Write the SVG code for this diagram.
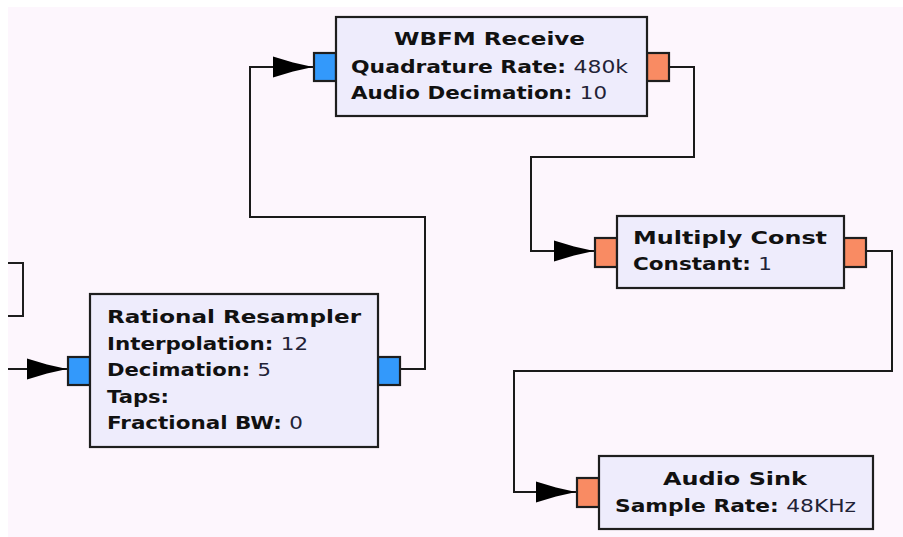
<svg xmlns="http://www.w3.org/2000/svg" width="903" height="537" viewBox="0 0 903 537">
<defs>
<style>
.node{fill:#eeecfc;stroke:#1e1e1e;stroke-width:2.2}
.pin{stroke:#1e1e1e;stroke-width:2.2}
.blue{fill:#3399fb}
.orange{fill:#f98b63}
.wire{fill:none;stroke:#1a1a1a;stroke-width:2}
text{font-family:"DejaVu Sans","Liberation Sans",sans-serif;font-size:18px;fill:#111}
.t{font-weight:bold;text-anchor:middle}
.k{font-weight:bold}
.v{font-weight:normal;fill:#222236}
</style>
<marker id="arr" markerUnits="userSpaceOnUse" markerWidth="42" markerHeight="24" refX="40" refY="12" orient="auto" viewBox="0 0 42 24">
<path d="M0,1.5 L20,7.5 L40,12 L20,16.5 L0,22.5 Z" fill="#000"/>
</marker>
</defs>
<rect x="8" y="7" width="895" height="530" fill="#fdf6fd"/>
<g id="offscreen-block">
<path d="M8,263 H23 V316 H8" fill="none" stroke="#1e1e1e" stroke-width="2"/>
</g>
<g id="connectors">
<path class="wire" d="M8,369 H67" marker-end="url(#arr)"/>
<path class="wire" d="M400,369 H425 V217 H250 V67 H313" marker-end="url(#arr)"/>
<path class="wire" d="M668,67 H694 V157 H531 V251 H594" marker-end="url(#arr)"/>
<path class="wire" d="M866,251 H892 V371 H514 V492 H576" marker-end="url(#arr)"/>
</g>
<g id="wbfm-receive">
<rect class="pin blue" x="314" y="53" width="22" height="28"/>
<rect class="pin orange" x="647" y="53" width="22" height="28"/>
<rect class="node" x="336" y="17" width="311" height="99"/>
<text class="t" x="489.5" y="45" textLength="191" lengthAdjust="spacingAndGlyphs">WBFM Receive</text>
<text x="351" y="72.5" textLength="277" lengthAdjust="spacingAndGlyphs"><tspan class="k">Quadrature Rate: </tspan><tspan class="v">480k</tspan></text>
<text x="351" y="99" textLength="256" lengthAdjust="spacingAndGlyphs"><tspan class="k">Audio Decimation: </tspan><tspan class="v">10</tspan></text>
</g>
<g id="rational-resampler">
<rect class="pin blue" x="68" y="357" width="22" height="28"/>
<rect class="pin blue" x="378" y="357" width="22" height="28"/>
<rect class="node" x="90" y="294" width="288" height="153"/>
<text class="t" x="234" y="323" textLength="254" lengthAdjust="spacingAndGlyphs">Rational Resampler</text>
<text x="107" y="349.5" textLength="201" lengthAdjust="spacingAndGlyphs"><tspan class="k">Interpolation: </tspan><tspan class="v">12</tspan></text>
<text x="107" y="376" textLength="164" lengthAdjust="spacingAndGlyphs"><tspan class="k">Decimation: </tspan><tspan class="v">5</tspan></text>
<text class="k" x="107" y="402.5" textLength="62" lengthAdjust="spacingAndGlyphs">Taps:</text>
<text x="107" y="429" textLength="196" lengthAdjust="spacingAndGlyphs"><tspan class="k">Fractional BW: </tspan><tspan class="v">0</tspan></text>
</g>
<g id="multiply-const">
<rect class="pin orange" x="595" y="238" width="22" height="29"/>
<rect class="pin orange" x="844" y="238" width="22" height="29"/>
<rect class="node" x="617" y="216" width="227" height="72"/>
<text class="t" x="730" y="244" textLength="194" lengthAdjust="spacingAndGlyphs">Multiply Const</text>
<text x="633" y="270" textLength="139" lengthAdjust="spacingAndGlyphs"><tspan class="k">Constant: </tspan><tspan class="v">1</tspan></text>
</g>
<g id="audio-sink">
<rect class="pin orange" x="577" y="478" width="22" height="29"/>
<rect class="node" x="599" y="456" width="274" height="73"/>
<text class="t" x="735" y="485" textLength="144" lengthAdjust="spacingAndGlyphs">Audio Sink</text>
<text x="615" y="512" textLength="241" lengthAdjust="spacingAndGlyphs"><tspan class="k">Sample Rate: </tspan><tspan class="v">48KHz</tspan></text>
</g>
</svg>
